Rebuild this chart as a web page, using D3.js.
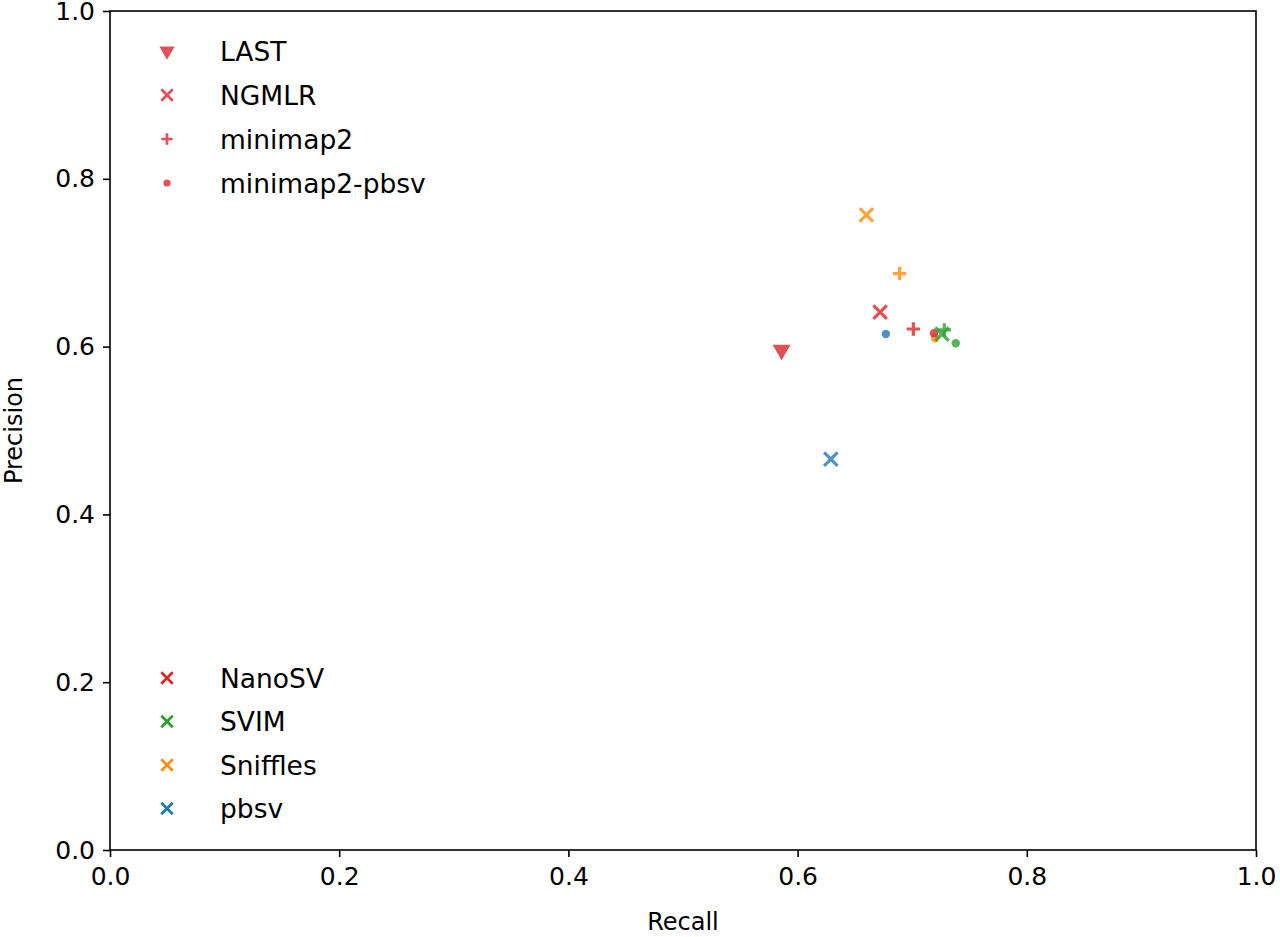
<!DOCTYPE html>
<html>
<head>
<meta charset="utf-8">
<script src="https://cdn.jsdelivr.net/npm/d3@7"></script>
<style>
  body { margin: 0; background: #fff; }
  text { font-family: "DejaVu Sans", sans-serif; fill: #000; }
</style>
</head>
<body>
<div id="chart"></div>
<script>
// aligners (marker shape) and callers (colour)
var aligners = ["LAST", "NGMLR", "minimap2", "minimap2-pbsv"];
var callers = ["NanoSV", "SVIM", "Sniffles", "pbsv"];
var callerColors = ["#d62728", "#2ca02c", "#ff8c0e", "#1f77b4"];
var ticks = [0.0, 0.2, 0.4, 0.6, 0.8, 1.0];

// one row per point: aligner, caller, recall, precision
var pointAligner = ["LAST", "NGMLR", "minimap2", "NGMLR", "minimap2", "minimap2-pbsv",
                    "minimap2-pbsv", "minimap2-pbsv", "NGMLR", "minimap2", "minimap2-pbsv", "NGMLR"];
var pointCaller  = ["NanoSV", "Sniffles", "Sniffles", "NanoSV", "NanoSV", "pbsv",
                    "Sniffles", "NanoSV", "SVIM", "SVIM", "SVIM", "pbsv"];
var recall       = [0.586, 0.660, 0.689, 0.672, 0.701, 0.677,
                    0.720, 0.719, 0.726, 0.728, 0.738, 0.629];
var precision    = [0.596, 0.757, 0.687, 0.641, 0.621, 0.615,
                    0.610, 0.616, 0.615, 0.620, 0.604, 0.466];

var margin = {top: 11, right: 24, bottom: 87, left: 110},
    width = 1280 - margin.left - margin.right,
    height = 937 - margin.top - margin.bottom;

var x = d3.scaleLinear().domain([0, 1]).range([0, width]),
    y = d3.scaleLinear().domain([0, 1]).range([height, 0]),
    c = d3.scaleOrdinal().domain(callers).range(callerColors);

var shapes = {
    "LAST": {type: d3.symbolTriangle, size: 140, fill: true, rot: 180},
    "NGMLR": {type: d3.symbolX, size: 120, fill: false, rot: 0},
    "minimap2": {type: d3.symbolPlus, size: 60, fill: false, rot: 0},
    "minimap2-pbsv": {type: d3.symbolCircle, size: 55, fill: true, rot: 0}
};

var svg = d3.select("#chart").append("svg")
    .attr("width", 1280)
    .attr("height", 937)
    .append("g")
    .attr("transform", "translate(" + margin.left + "," + margin.top + ")");

function drawMarker(g, aligner, color, scale, opacity) {
    var s = shapes[aligner];
    var p = g.append("path")
        .attr("d", d3.symbol().type(s.type).size(s.size * scale * scale)())
        .attr("transform", "rotate(" + s.rot + ")")
        .attr("opacity", opacity);
    if (s.fill) {
        p.attr("fill", color).attr("stroke", "none");
    } else {
        p.attr("fill", "none").attr("stroke", color).attr("stroke-width", 3.2 * scale);
    }
}

// points
var points = d3.range(recall.length).map(function (i) {
    return {a: pointAligner[i], c: pointCaller[i], x: recall[i], y: precision[i]};
});

svg.selectAll(".pt")
    .data(points)
    .enter().append("g")
    .attr("class", "pt")
    .attr("transform", function (d) { return "translate(" + x(d.x) + "," + y(d.y) + ")"; })
    .each(function (d) { drawMarker(d3.select(this), d.a, c(d.c), 1, 0.8); });

// frame
svg.append("rect")
    .attr("width", width)
    .attr("height", height)
    .attr("fill", "none")
    .attr("stroke", "#000")
    .attr("stroke-width", 1.6);

var xAxis = svg.append("g")
    .attr("transform", "translate(0," + height + ")")
    .call(d3.axisBottom(x).tickValues(ticks).tickFormat(d3.format(".1f")).tickSize(7).tickPadding(10));
var yAxis = svg.append("g")
    .call(d3.axisLeft(y).tickValues(ticks).tickFormat(d3.format(".1f")).tickSize(7).tickPadding(8));

[xAxis, yAxis].forEach(function (ax) {
    ax.select(".domain").remove();
    ax.selectAll(".tick line").attr("stroke", "#000").attr("stroke-width", 1.6);
    ax.selectAll(".tick text").style("font-size", "25px").style("font-family", "DejaVu Sans, sans-serif");
});

svg.append("text")
    .attr("x", width / 2)
    .attr("y", height + 80)
    .attr("text-anchor", "middle")
    .style("font-size", "24px")
    .text("Recall");

svg.append("text")
    .attr("transform", "translate(" + (-88) + "," + (height / 2) + ")rotate(-90)")
    .attr("text-anchor", "middle")
    .style("font-size", "24px")
    .text("Precision");

// legend: aligners
var leg1 = svg.selectAll(".leg1")
    .data(aligners)
    .enter().append("g")
    .attr("class", "leg1")
    .attr("transform", function (d, i) { return "translate(57," + (40 + i * 44) + ")"; });
leg1.each(function (d) { drawMarker(d3.select(this), d, "#e0303c", 0.85, 0.85); });
leg1.append("text")
    .attr("x", 53)
    .attr("dy", "0.36em")
    .style("font-size", "26.5px")
    .text(function (d) { return d; });

// legend: callers
var leg2 = svg.selectAll(".leg2")
    .data(callers)
    .enter().append("g")
    .attr("class", "leg2")
    .attr("transform", function (d, i) { return "translate(57," + (667 + i * 43.5) + ")"; });
leg2.each(function (d) { drawMarker(d3.select(this), "NGMLR", c(d), 0.85, 1); });
leg2.append("text")
    .attr("x", 53)
    .attr("dy", "0.36em")
    .style("font-size", "26.5px")
    .text(function (d) { return d; });
</script>
</body>
</html>
